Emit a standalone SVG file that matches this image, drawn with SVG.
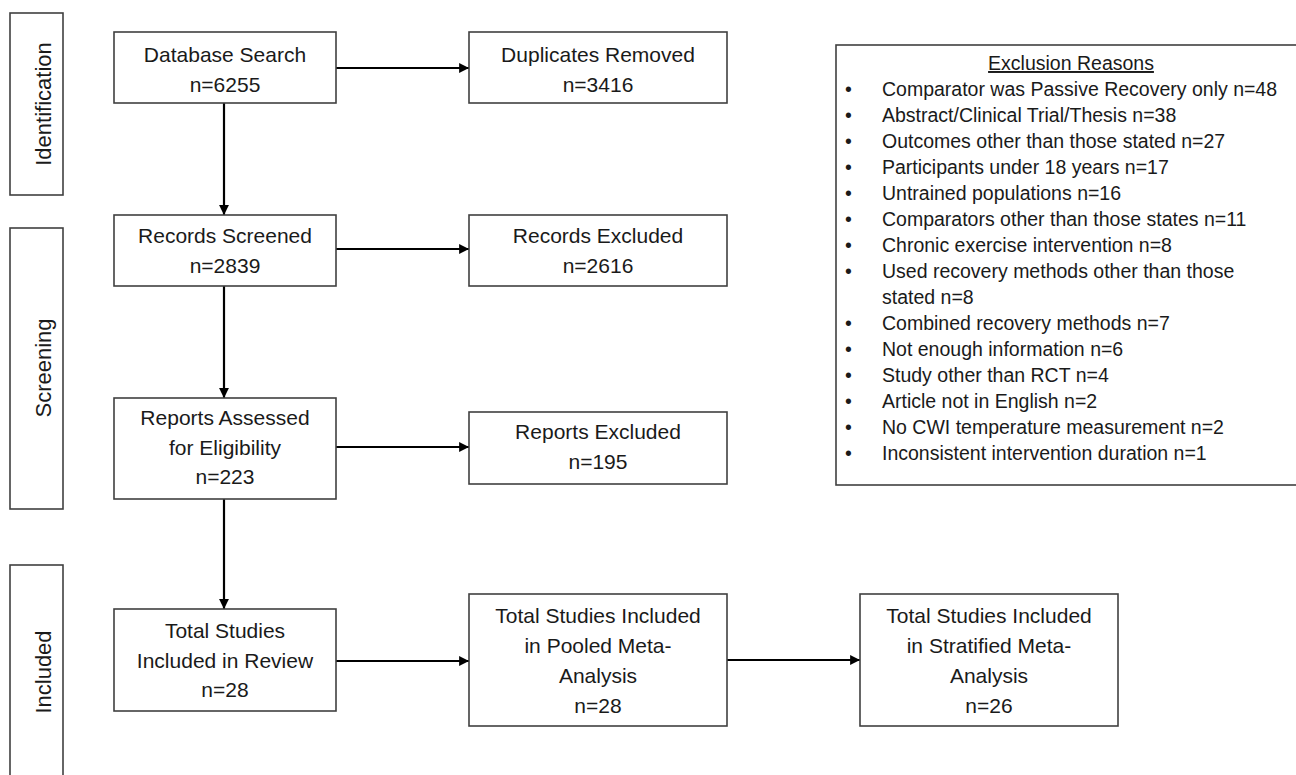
<svg xmlns="http://www.w3.org/2000/svg" width="1296" height="775" viewBox="0 0 1296 775">
<style>
.box{fill:#fff;stroke:#404040;stroke-width:1.6}
.t{font-family:"Liberation Sans",Arial,sans-serif;font-size:21px;fill:#1a1a1a;text-anchor:middle}
.s{font-family:"Liberation Sans",Arial,sans-serif;font-size:22px;fill:#1a1a1a;text-anchor:middle}
.l{font-family:"Liberation Sans",Arial,sans-serif;font-size:19.5px;fill:#1a1a1a}
.c{stroke:#000;stroke-width:2.2;fill:none;marker-end:url(#ah)}
</style>
<defs>
<marker id="ah" viewBox="0 0 10 10" refX="10" refY="5" markerWidth="4.5" markerHeight="4.5" markerUnits="strokeWidth" orient="auto">
<path d="M0,0 L10,5 L0,10 z" fill="#000"/>
</marker>
</defs>
<rect width="1296" height="775" fill="#fff"/>
<g id="stage-identification">
<rect class="box" x="10" y="13" width="53" height="182"/>
<text class="s" transform="translate(51,104) rotate(-90)">Identification</text>
</g>
<g id="stage-screening">
<rect class="box" x="10" y="228" width="53" height="281"/>
<text class="s" transform="translate(51,368) rotate(-90)">Screening</text>
</g>
<g id="stage-included">
<rect class="box" x="10" y="565" width="53" height="216"/>
<text class="s" transform="translate(51,672) rotate(-90)">Included</text>
</g>
<g id="connectors">
<line class="c" x1="336" y1="68" x2="469" y2="68"/>
<line class="c" x1="224" y1="103" x2="224" y2="215"/>
<line class="c" x1="336" y1="249" x2="469" y2="249"/>
<line class="c" x1="224" y1="286" x2="224" y2="398"/>
<line class="c" x1="336" y1="447" x2="469" y2="447"/>
<line class="c" x1="224" y1="499" x2="224" y2="609"/>
<line class="c" x1="336" y1="661" x2="469" y2="661"/>
<line class="c" x1="727" y1="660" x2="860" y2="660"/>
</g>
<g id="database-search">
<rect class="box" x="114" y="32" width="222" height="71"/>
<text class="t" x="225" y="62">Database Search</text>
<text class="t" x="225" y="92">n=6255</text>
</g>
<g id="duplicates-removed">
<rect class="box" x="469" y="32" width="258" height="71"/>
<text class="t" x="598" y="62">Duplicates Removed</text>
<text class="t" x="598" y="92">n=3416</text>
</g>
<g id="records-screened">
<rect class="box" x="114" y="215" width="222" height="71"/>
<text class="t" x="225" y="243">Records Screened</text>
<text class="t" x="225" y="273">n=2839</text>
</g>
<g id="records-excluded">
<rect class="box" x="469" y="215" width="258" height="71"/>
<text class="t" x="598" y="243">Records Excluded</text>
<text class="t" x="598" y="273">n=2616</text>
</g>
<g id="reports-assessed">
<rect class="box" x="114" y="398" width="222" height="101"/>
<text class="t" x="225" y="425">Reports Assessed</text>
<text class="t" x="225" y="455">for Eligibility</text>
<text class="t" x="225" y="484">n=223</text>
</g>
<g id="reports-excluded">
<rect class="box" x="469" y="412" width="258" height="72"/>
<text class="t" x="598" y="439">Reports Excluded</text>
<text class="t" x="598" y="469">n=195</text>
</g>
<g id="total-review">
<rect class="box" x="114" y="609" width="222" height="102"/>
<text class="t" x="225" y="638">Total Studies</text>
<text class="t" x="225" y="668">Included in Review</text>
<text class="t" x="225" y="697">n=28</text>
</g>
<g id="total-pooled">
<rect class="box" x="469" y="594" width="258" height="132"/>
<text class="t" x="598" y="623">Total Studies Included</text>
<text class="t" x="598" y="653">in Pooled Meta-</text>
<text class="t" x="598" y="683">Analysis</text>
<text class="t" x="598" y="713">n=28</text>
</g>
<g id="total-stratified">
<rect class="box" x="860" y="594" width="258" height="132"/>
<text class="t" x="989" y="623">Total Studies Included</text>
<text class="t" x="989" y="653">in Stratified Meta-</text>
<text class="t" x="989" y="683">Analysis</text>
<text class="t" x="989" y="713">n=26</text>
</g>
<g id="exclusion-reasons">
<rect class="box" x="836" y="45" width="470" height="440"/>
<text class="l" x="1071" y="70" text-anchor="middle" text-decoration="underline">Exclusion Reasons</text>
<g class="l">
<text x="845" y="96">•</text><text x="882" y="96">Comparator was Passive Recovery only n=48</text>
<text x="845" y="122">•</text><text x="882" y="122">Abstract/Clinical Trial/Thesis n=38</text>
<text x="845" y="148">•</text><text x="882" y="148">Outcomes other than those stated n=27</text>
<text x="845" y="174">•</text><text x="882" y="174">Participants under 18 years n=17</text>
<text x="845" y="200">•</text><text x="882" y="200">Untrained populations n=16</text>
<text x="845" y="226">•</text><text x="882" y="226">Comparators other than those states n=11</text>
<text x="845" y="252">•</text><text x="882" y="252">Chronic exercise intervention n=8</text>
<text x="845" y="278">•</text><text x="882" y="278">Used recovery methods other than those</text>
<text x="882" y="304">stated n=8</text>
<text x="845" y="330">•</text><text x="882" y="330">Combined recovery methods n=7</text>
<text x="845" y="356">•</text><text x="882" y="356">Not enough information n=6</text>
<text x="845" y="382">•</text><text x="882" y="382">Study other than RCT n=4</text>
<text x="845" y="408">•</text><text x="882" y="408">Article not in English n=2</text>
<text x="845" y="434">•</text><text x="882" y="434">No CWI temperature measurement n=2</text>
<text x="845" y="460">•</text><text x="882" y="460">Inconsistent intervention duration n=1</text>
</g>
</g>
</svg>
